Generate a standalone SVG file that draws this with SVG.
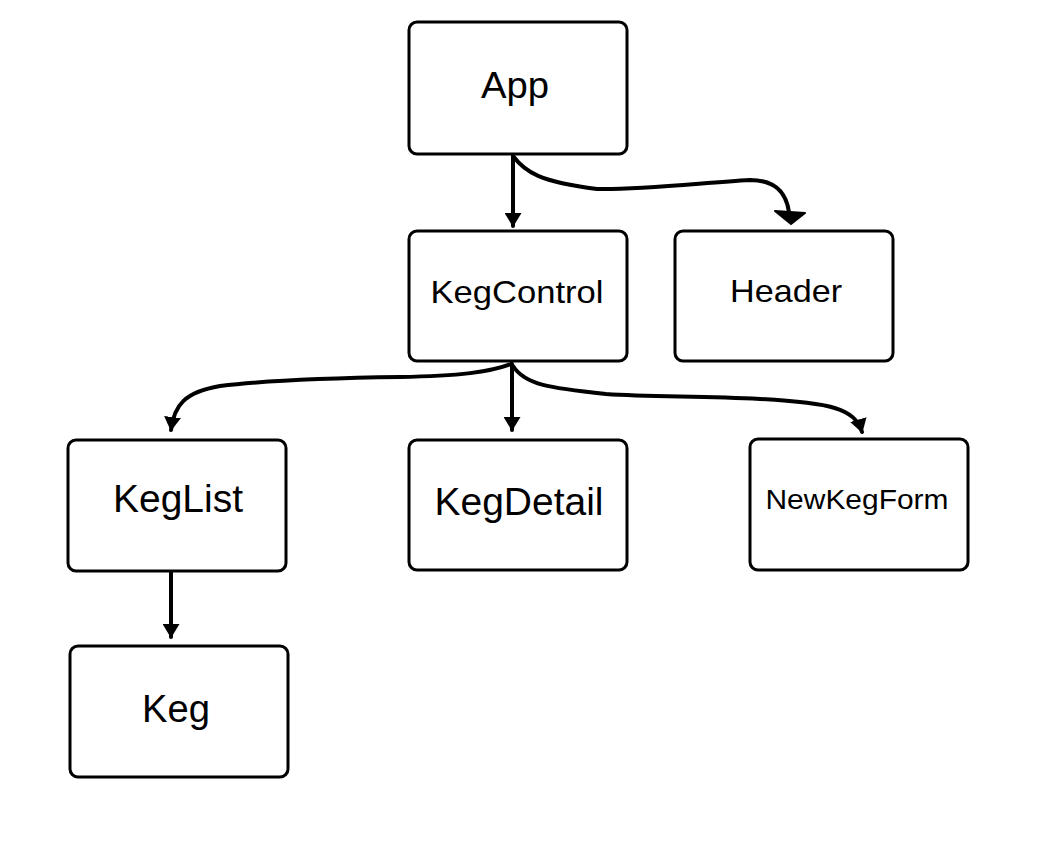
<svg xmlns="http://www.w3.org/2000/svg" width="1056" height="844" viewBox="0 0 1056 844">
<style>
.box{fill:#fff;stroke:#000;stroke-width:3}
.lbl{font-family:"Liberation Sans",Arial,sans-serif;fill:#000;text-anchor:middle}
.c{fill:none;stroke:#000;stroke-width:4;stroke-linecap:round;stroke-linejoin:round}
</style>
<defs>
<marker id="ah" viewBox="0 0 14 17" refX="13" refY="8.5" markerWidth="14" markerHeight="17" orient="auto" markerUnits="userSpaceOnUse">
<path d="M0,0 L14,8.5 L0,17 Z" fill="#000"/>
</marker>
</defs>
<rect width="1056" height="844" fill="#fff"/>
<g id="App"><rect class="box" x="409" y="22" width="218" height="132" rx="8"/><text class="lbl" x="515" y="98" font-size="37" textLength="68" lengthAdjust="spacingAndGlyphs">App</text></g>
<g id="KegControl"><rect class="box" x="409" y="231" width="218" height="130" rx="8"/><text class="lbl" x="517" y="303" font-size="32" textLength="173" lengthAdjust="spacingAndGlyphs">KegControl</text></g>
<g id="Header"><rect class="box" x="675" y="231" width="218" height="130" rx="8"/><text class="lbl" x="786" y="302" font-size="32" textLength="112" lengthAdjust="spacingAndGlyphs">Header</text></g>
<g id="KegList"><rect class="box" x="68" y="440" width="218" height="131" rx="8"/><text class="lbl" x="178" y="512" font-size="38" textLength="130" lengthAdjust="spacingAndGlyphs">KegList</text></g>
<g id="KegDetail"><rect class="box" x="409" y="440" width="218" height="130" rx="8"/><text class="lbl" x="519" y="515" font-size="38" textLength="169" lengthAdjust="spacingAndGlyphs">KegDetail</text></g>
<g id="NewKegForm"><rect class="box" x="750" y="439" width="218" height="131" rx="8"/><text class="lbl" x="857" y="509" font-size="28" textLength="183" lengthAdjust="spacingAndGlyphs">NewKegForm</text></g>
<g id="Keg"><rect class="box" x="70" y="646" width="218" height="131" rx="8"/><text class="lbl" x="176" y="722" font-size="38" textLength="68" lengthAdjust="spacingAndGlyphs">Keg</text></g>
<g id="connectors">
<path class="c" d="M513,156 L513,226" marker-end="url(#ah)"/>
<path class="c" d="M513,156 C525,172 540,182 597,189 C640,190 700,183 750,180 C775,180 786,192 789,212"/>
<path d="M775,211 L805,213 L791,224 Z" fill="#000" stroke="#000" stroke-width="2" stroke-linejoin="round"/>
<path class="c" d="M511,364 C490,372 460,376 400,377 C330,378 260,381 220,386 C185,392 174,405 171,430" marker-end="url(#ah)"/>
<path class="c" d="M512,364 L512,430" marker-end="url(#ah)"/>
<path class="c" d="M513,366 C525,385 550,388 606,394 C650,397 700,396 760,399 C830,403 855,408 862,432" marker-end="url(#ah)"/>
<path class="c" d="M171,573 L171,637" marker-end="url(#ah)"/>
</g>
</svg>
